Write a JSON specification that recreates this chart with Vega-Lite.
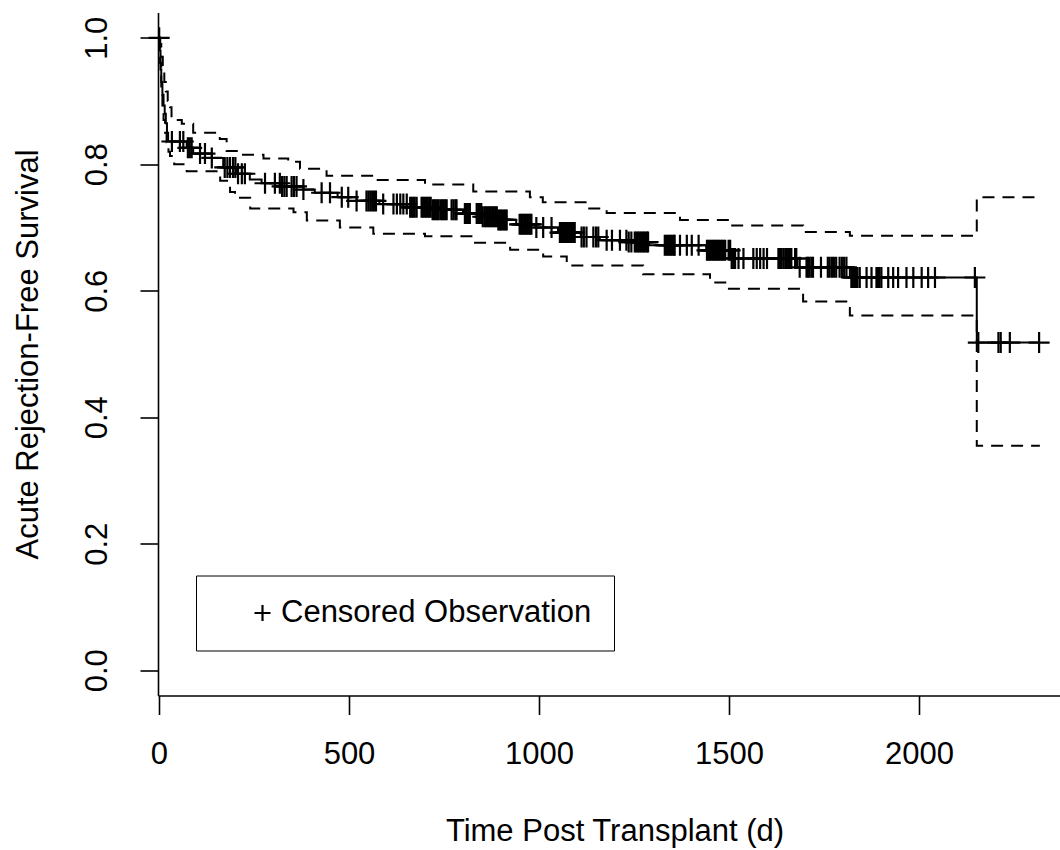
{
  "$schema": "https://vega.github.io/schema/vega-lite/v6.json",
  "width": 902,
  "height": 683,
  "autosize": {"type": "none"},
  "padding": {"left": 158, "top": 12.5, "right": 0, "bottom": 154.5},
  "background": "white",
  "config": {
    "font": "Liberation Sans",
    "view": {"stroke": null},
    "axis": {
      "grid": false,
      "domainColor": "black",
      "domainWidth": 1.6,
      "tickColor": "black",
      "tickWidth": 1.6,
      "labelColor": "black",
      "titleColor": "black",
      "labelFont": "Liberation Sans",
      "titleFont": "Liberation Sans",
      "labelFontSize": 31,
      "titleFontSize": 31,
      "titleFontWeight": "normal",
      "labelFlush": false,
      "labelOverlap": false
    }
  },
  "datasets": {
    "est": [
      {"t":0,"s":1},{"t":2,"s":0.98},{"t":4,"s":0.95},{"t":6,"s":0.93},{"t":9,"s":0.91},{"t":12,"s":0.893},{"t":15,"s":0.88},{"t":18,"s":0.865},{"t":21,"s":0.85},{"t":24,"s":0.836},{"t":73,"s":0.826},{"t":90,"s":0.817},{"t":139,"s":0.81},{"t":169,"s":0.795},{"t":204,"s":0.785},{"t":239,"s":0.776},{"t":270,"s":0.77},{"t":320,"s":0.765},{"t":380,"s":0.76},{"t":410,"s":0.755},{"t":470,"s":0.748},{"t":520,"s":0.742},{"t":580,"s":0.737},{"t":660,"s":0.732},{"t":720,"s":0.728},{"t":800,"s":0.722},{"t":850,"s":0.717},{"t":890,"s":0.712},{"t":940,"s":0.705},{"t":990,"s":0.7},{"t":1050,"s":0.692},{"t":1110,"s":0.685},{"t":1160,"s":0.68},{"t":1240,"s":0.677},{"t":1290,"s":0.672},{"t":1440,"s":0.664},{"t":1505,"s":0.651},{"t":1680,"s":0.637},{"t":1818,"s":0.621},{"t":2152,"s":0.518},{"t":2316,"s":0.518}
    ],
    "upper": [
      {"t":0,"s":1},{"t":3,"s":0.99},{"t":6,"s":0.97},{"t":10,"s":0.95},{"t":14,"s":0.93},{"t":18,"s":0.915},{"t":23,"s":0.9},{"t":29,"s":0.89},{"t":33,"s":0.87},{"t":60,"s":0.864},{"t":90,"s":0.85},{"t":160,"s":0.84},{"t":178,"s":0.821},{"t":213,"s":0.815},{"t":275,"s":0.809},{"t":340,"s":0.804},{"t":371,"s":0.793},{"t":441,"s":0.782},{"t":564,"s":0.775},{"t":700,"s":0.768},{"t":827,"s":0.757},{"t":976,"s":0.748},{"t":1010,"s":0.74},{"t":1126,"s":0.73},{"t":1178,"s":0.723},{"t":1371,"s":0.712},{"t":1503,"s":0.703},{"t":1695,"s":0.693},{"t":1818,"s":0.687},{"t":2152,"s":0.748},{"t":2310,"s":0.748}
    ],
    "lower": [
      {"t":0,"s":1},{"t":3,"s":0.96},{"t":6,"s":0.92},{"t":9,"s":0.89},{"t":12,"s":0.87},{"t":16,"s":0.85},{"t":20,"s":0.835},{"t":25,"s":0.82},{"t":29,"s":0.813},{"t":40,"s":0.8},{"t":73,"s":0.789},{"t":161,"s":0.774},{"t":187,"s":0.756},{"t":200,"s":0.747},{"t":240,"s":0.73},{"t":354,"s":0.724},{"t":389,"s":0.711},{"t":476,"s":0.7},{"t":564,"s":0.69},{"t":700,"s":0.686},{"t":827,"s":0.676},{"t":924,"s":0.665},{"t":1011,"s":0.654},{"t":1073,"s":0.64},{"t":1274,"s":0.626},{"t":1450,"s":0.613},{"t":1495,"s":0.603},{"t":1695,"s":0.583},{"t":1818,"s":0.561},{"t":2152,"s":0.355},{"t":2318,"s":0.355}
    ],
    "censor": [
      {"t":0.5,"s":1,"kind":"Censored Observation"},
      {"t":34,"s":0.836,"kind":"Censored Observation"},{"t":55,"s":0.836,"kind":"Censored Observation"},{"t":64,"s":0.836,"kind":"Censored Observation"},
      {"t":76,"s":0.826,"kind":"Censored Observation"},{"t":81,"s":0.826,"kind":"Censored Observation"},{"t":86,"s":0.826,"kind":"Censored Observation"},
      {"t":108,"s":0.817,"kind":"Censored Observation"},{"t":121,"s":0.817,"kind":"Censored Observation"},{"t":139,"s":0.81,"kind":"Censored Observation"},
      {"t":173,"s":0.795,"kind":"Censored Observation"},{"t":180,"s":0.795,"kind":"Censored Observation"},{"t":187,"s":0.795,"kind":"Censored Observation"},{"t":195,"s":0.795,"kind":"Censored Observation"},{"t":201,"s":0.795,"kind":"Censored Observation"},
      {"t":208,"s":0.785,"kind":"Censored Observation"},{"t":218,"s":0.785,"kind":"Censored Observation"},{"t":226,"s":0.785,"kind":"Censored Observation"},
      {"t":279,"s":0.77,"kind":"Censored Observation"},{"t":305,"s":0.77,"kind":"Censored Observation"},{"t":318,"s":0.77,"kind":"Censored Observation"},
      {"t":324,"s":0.765,"kind":"Censored Observation"},{"t":330,"s":0.765,"kind":"Censored Observation"},{"t":336,"s":0.765,"kind":"Censored Observation"},{"t":349,"s":0.765,"kind":"Censored Observation"},{"t":355,"s":0.765,"kind":"Censored Observation"},{"t":362,"s":0.765,"kind":"Censored Observation"},
      {"t":380,"s":0.76,"kind":"Censored Observation"},{"t":428,"s":0.755,"kind":"Censored Observation"},{"t":450,"s":0.755,"kind":"Censored Observation"},
      {"t":481,"s":0.748,"kind":"Censored Observation"},{"t":498,"s":0.748,"kind":"Censored Observation"},
      {"t":520,"s":0.742,"kind":"Censored Observation"},{"t":546,"s":0.742,"kind":"Censored Observation"},{"t":551,"s":0.742,"kind":"Censored Observation"},{"t":556,"s":0.742,"kind":"Censored Observation"},{"t":561,"s":0.742,"kind":"Censored Observation"},{"t":566,"s":0.742,"kind":"Censored Observation"},{"t":571,"s":0.742,"kind":"Censored Observation"},
      {"t":590,"s":0.737,"kind":"Censored Observation"},{"t":617,"s":0.737,"kind":"Censored Observation"},{"t":626,"s":0.737,"kind":"Censored Observation"},{"t":635,"s":0.737,"kind":"Censored Observation"},{"t":643,"s":0.737,"kind":"Censored Observation"},{"t":652,"s":0.737,"kind":"Censored Observation"},
      {"t":661,"s":0.732,"kind":"Censored Observation"},{"t":665,"s":0.732,"kind":"Censored Observation"},{"t":669,"s":0.732,"kind":"Censored Observation"},{"t":673,"s":0.732,"kind":"Censored Observation"},{"t":678,"s":0.732,"kind":"Censored Observation"},
      {"t":691,"s":0.732,"kind":"Censored Observation"},{"t":695,"s":0.732,"kind":"Censored Observation"},{"t":699,"s":0.732,"kind":"Censored Observation"},{"t":703,"s":0.732,"kind":"Censored Observation"},{"t":707,"s":0.732,"kind":"Censored Observation"},{"t":711,"s":0.732,"kind":"Censored Observation"},{"t":715,"s":0.732,"kind":"Censored Observation"},
      {"t":720,"s":0.728,"kind":"Censored Observation"},{"t":724,"s":0.728,"kind":"Censored Observation"},{"t":728,"s":0.728,"kind":"Censored Observation"},{"t":732,"s":0.728,"kind":"Censored Observation"},{"t":736,"s":0.728,"kind":"Censored Observation"},{"t":741,"s":0.728,"kind":"Censored Observation"},{"t":745,"s":0.728,"kind":"Censored Observation"},{"t":749,"s":0.728,"kind":"Censored Observation"},{"t":753,"s":0.728,"kind":"Censored Observation"},{"t":757,"s":0.728,"kind":"Censored Observation"},
      {"t":770,"s":0.728,"kind":"Censored Observation"},{"t":775,"s":0.728,"kind":"Censored Observation"},{"t":780,"s":0.728,"kind":"Censored Observation"},{"t":783,"s":0.728,"kind":"Censored Observation"},
      {"t":805,"s":0.722,"kind":"Censored Observation"},{"t":810,"s":0.722,"kind":"Censored Observation"},{"t":814,"s":0.722,"kind":"Censored Observation"},{"t":818,"s":0.722,"kind":"Censored Observation"},
      {"t":836,"s":0.722,"kind":"Censored Observation"},{"t":840,"s":0.722,"kind":"Censored Observation"},{"t":844,"s":0.722,"kind":"Censored Observation"},{"t":848,"s":0.722,"kind":"Censored Observation"},
      {"t":852,"s":0.717,"kind":"Censored Observation"},{"t":857,"s":0.717,"kind":"Censored Observation"},{"t":861,"s":0.717,"kind":"Censored Observation"},{"t":865,"s":0.717,"kind":"Censored Observation"},{"t":869,"s":0.717,"kind":"Censored Observation"},{"t":873,"s":0.717,"kind":"Censored Observation"},{"t":877,"s":0.717,"kind":"Censored Observation"},{"t":881,"s":0.717,"kind":"Censored Observation"},{"t":885,"s":0.717,"kind":"Censored Observation"},{"t":889,"s":0.717,"kind":"Censored Observation"},
      {"t":893,"s":0.712,"kind":"Censored Observation"},{"t":897,"s":0.712,"kind":"Censored Observation"},{"t":900,"s":0.712,"kind":"Censored Observation"},{"t":904,"s":0.712,"kind":"Censored Observation"},{"t":908,"s":0.712,"kind":"Censored Observation"},{"t":912,"s":0.712,"kind":"Censored Observation"},{"t":915,"s":0.712,"kind":"Censored Observation"},
      {"t":949,"s":0.705,"kind":"Censored Observation"},{"t":953,"s":0.705,"kind":"Censored Observation"},{"t":957,"s":0.705,"kind":"Censored Observation"},{"t":961,"s":0.705,"kind":"Censored Observation"},{"t":965,"s":0.705,"kind":"Censored Observation"},{"t":969,"s":0.705,"kind":"Censored Observation"},{"t":973,"s":0.705,"kind":"Censored Observation"},{"t":977,"s":0.705,"kind":"Censored Observation"},{"t":980,"s":0.705,"kind":"Censored Observation"},
      {"t":993,"s":0.7,"kind":"Censored Observation"},{"t":1011,"s":0.7,"kind":"Censored Observation"},{"t":1033,"s":0.7,"kind":"Censored Observation"},
      {"t":1055,"s":0.692,"kind":"Censored Observation"},{"t":1059,"s":0.692,"kind":"Censored Observation"},{"t":1063,"s":0.692,"kind":"Censored Observation"},{"t":1067,"s":0.692,"kind":"Censored Observation"},{"t":1071,"s":0.692,"kind":"Censored Observation"},{"t":1075,"s":0.692,"kind":"Censored Observation"},{"t":1079,"s":0.692,"kind":"Censored Observation"},{"t":1083,"s":0.692,"kind":"Censored Observation"},{"t":1087,"s":0.692,"kind":"Censored Observation"},{"t":1091,"s":0.692,"kind":"Censored Observation"},{"t":1094,"s":0.692,"kind":"Censored Observation"},
      {"t":1112,"s":0.685,"kind":"Censored Observation"},{"t":1118,"s":0.685,"kind":"Censored Observation"},{"t":1125,"s":0.685,"kind":"Censored Observation"},{"t":1143,"s":0.685,"kind":"Censored Observation"},{"t":1150,"s":0.685,"kind":"Censored Observation"},{"t":1156,"s":0.685,"kind":"Censored Observation"},
      {"t":1178,"s":0.68,"kind":"Censored Observation"},{"t":1192,"s":0.68,"kind":"Censored Observation"},{"t":1213,"s":0.68,"kind":"Censored Observation"},{"t":1230,"s":0.68,"kind":"Censored Observation"},
      {"t":1236,"s":0.677,"kind":"Censored Observation"},{"t":1243,"s":0.677,"kind":"Censored Observation"},{"t":1252,"s":0.677,"kind":"Censored Observation"},{"t":1256,"s":0.677,"kind":"Censored Observation"},{"t":1260,"s":0.677,"kind":"Censored Observation"},{"t":1264,"s":0.677,"kind":"Censored Observation"},{"t":1268,"s":0.677,"kind":"Censored Observation"},{"t":1272,"s":0.677,"kind":"Censored Observation"},{"t":1276,"s":0.677,"kind":"Censored Observation"},{"t":1280,"s":0.677,"kind":"Censored Observation"},{"t":1284,"s":0.677,"kind":"Censored Observation"},{"t":1287,"s":0.677,"kind":"Censored Observation"},
      {"t":1331,"s":0.672,"kind":"Censored Observation"},{"t":1335,"s":0.672,"kind":"Censored Observation"},{"t":1339,"s":0.672,"kind":"Censored Observation"},{"t":1343,"s":0.672,"kind":"Censored Observation"},{"t":1347,"s":0.672,"kind":"Censored Observation"},{"t":1351,"s":0.672,"kind":"Censored Observation"},{"t":1355,"s":0.672,"kind":"Censored Observation"},{"t":1357,"s":0.672,"kind":"Censored Observation"},{"t":1371,"s":0.672,"kind":"Censored Observation"},{"t":1389,"s":0.672,"kind":"Censored Observation"},{"t":1402,"s":0.672,"kind":"Censored Observation"},{"t":1420,"s":0.672,"kind":"Censored Observation"},
      {"t":1442,"s":0.664,"kind":"Censored Observation"},{"t":1446,"s":0.664,"kind":"Censored Observation"},{"t":1450,"s":0.664,"kind":"Censored Observation"},{"t":1454,"s":0.664,"kind":"Censored Observation"},{"t":1458,"s":0.664,"kind":"Censored Observation"},{"t":1462,"s":0.664,"kind":"Censored Observation"},{"t":1466,"s":0.664,"kind":"Censored Observation"},{"t":1470,"s":0.664,"kind":"Censored Observation"},{"t":1474,"s":0.664,"kind":"Censored Observation"},{"t":1478,"s":0.664,"kind":"Censored Observation"},{"t":1482,"s":0.664,"kind":"Censored Observation"},{"t":1486,"s":0.664,"kind":"Censored Observation"},{"t":1490,"s":0.664,"kind":"Censored Observation"},{"t":1499,"s":0.664,"kind":"Censored Observation"},{"t":1503,"s":0.664,"kind":"Censored Observation"},
      {"t":1507,"s":0.651,"kind":"Censored Observation"},{"t":1511,"s":0.651,"kind":"Censored Observation"},{"t":1516,"s":0.651,"kind":"Censored Observation"},{"t":1525,"s":0.651,"kind":"Censored Observation"},{"t":1538,"s":0.651,"kind":"Censored Observation"},{"t":1564,"s":0.651,"kind":"Censored Observation"},{"t":1573,"s":0.651,"kind":"Censored Observation"},{"t":1582,"s":0.651,"kind":"Censored Observation"},{"t":1591,"s":0.651,"kind":"Censored Observation"},{"t":1600,"s":0.651,"kind":"Censored Observation"},
      {"t":1630,"s":0.651,"kind":"Censored Observation"},{"t":1634,"s":0.651,"kind":"Censored Observation"},{"t":1638,"s":0.651,"kind":"Censored Observation"},{"t":1643,"s":0.651,"kind":"Censored Observation"},{"t":1648,"s":0.651,"kind":"Censored Observation"},{"t":1652,"s":0.651,"kind":"Censored Observation"},{"t":1656,"s":0.651,"kind":"Censored Observation"},{"t":1660,"s":0.651,"kind":"Censored Observation"},{"t":1664,"s":0.651,"kind":"Censored Observation"},{"t":1674,"s":0.651,"kind":"Censored Observation"},{"t":1677,"s":0.651,"kind":"Censored Observation"},
      {"t":1686,"s":0.637,"kind":"Censored Observation"},{"t":1704,"s":0.637,"kind":"Censored Observation"},{"t":1708,"s":0.637,"kind":"Censored Observation"},{"t":1712,"s":0.637,"kind":"Censored Observation"},{"t":1717,"s":0.637,"kind":"Censored Observation"},{"t":1721,"s":0.637,"kind":"Censored Observation"},{"t":1742,"s":0.637,"kind":"Censored Observation"},{"t":1760,"s":0.637,"kind":"Censored Observation"},{"t":1765,"s":0.637,"kind":"Censored Observation"},{"t":1771,"s":0.637,"kind":"Censored Observation"},{"t":1776,"s":0.637,"kind":"Censored Observation"},{"t":1782,"s":0.637,"kind":"Censored Observation"},{"t":1791,"s":0.637,"kind":"Censored Observation"},{"t":1797,"s":0.637,"kind":"Censored Observation"},{"t":1803,"s":0.637,"kind":"Censored Observation"},{"t":1809,"s":0.637,"kind":"Censored Observation"},
      {"t":1822,"s":0.621,"kind":"Censored Observation"},{"t":1826,"s":0.621,"kind":"Censored Observation"},{"t":1830,"s":0.621,"kind":"Censored Observation"},{"t":1834,"s":0.621,"kind":"Censored Observation"},{"t":1838,"s":0.621,"kind":"Censored Observation"},{"t":1844,"s":0.621,"kind":"Censored Observation"},{"t":1862,"s":0.621,"kind":"Censored Observation"},{"t":1875,"s":0.621,"kind":"Censored Observation"},{"t":1888,"s":0.621,"kind":"Censored Observation"},{"t":1892,"s":0.621,"kind":"Censored Observation"},{"t":1896,"s":0.621,"kind":"Censored Observation"},{"t":1901,"s":0.621,"kind":"Censored Observation"},{"t":1919,"s":0.621,"kind":"Censored Observation"},{"t":1932,"s":0.621,"kind":"Censored Observation"},{"t":1945,"s":0.621,"kind":"Censored Observation"},{"t":1967,"s":0.621,"kind":"Censored Observation"},{"t":1985,"s":0.621,"kind":"Censored Observation"},{"t":2007,"s":0.621,"kind":"Censored Observation"},{"t":2024,"s":0.621,"kind":"Censored Observation"},{"t":2042,"s":0.621,"kind":"Censored Observation"},{"t":2147,"s":0.621,"kind":"Censored Observation"},
      {"t":2156,"s":0.518,"kind":"Censored Observation"},{"t":2209,"s":0.518,"kind":"Censored Observation"},{"t":2215,"s":0.518,"kind":"Censored Observation"},{"t":2239,"s":0.518,"kind":"Censored Observation"},{"t":2316,"s":0.518,"kind":"Censored Observation"}
    ]
  },
  "encoding": {
    "x": {
      "field": "t", "type": "quantitative",
      "scale": {"domain": [-2.6, 2371], "nice": false, "zero": false},
      "axis": {
        "values": [0, 500, 1000, 1500, 2000],
        "format": "d",
        "tickSize": 19,
        "labelPadding": 25,
        "title": "Time Post Transplant (d)",
        "titleBaseline": "alphabetic",
        "titleX": 456.5,
        "titleY": 144.5
      }
    },
    "y": {
      "field": "s", "type": "quantitative",
      "scale": {"domain": [-0.04, 1.04], "nice": false, "zero": false},
      "axis": {
        "values": [0, 0.2, 0.4, 0.6, 0.8, 1],
        "format": ".1f",
        "tickSize": 18,
        "labelAngle": 270,
        "labelAlign": "center",
        "labelBaseline": "bottom",
        "labelPadding": 27,
        "title": "Acute Rejection-Free Survival",
        "titleAngle": 270,
        "titleBaseline": "alphabetic",
        "titleAlign": "center",
        "titleX": -121,
        "titleY": 341.5
      }
    }
  },
  "layer": [
    {
      "data": {"name": "upper"},
      "mark": {"type": "line", "interpolate": "step-after", "color": "black", "strokeWidth": 2, "strokeDash": [12, 8]}
    },
    {
      "data": {"name": "lower"},
      "mark": {"type": "line", "interpolate": "step-after", "color": "black", "strokeWidth": 2, "strokeDash": [12, 8]}
    },
    {
      "data": {"name": "est"},
      "mark": {"type": "line", "interpolate": "step-after", "color": "black", "strokeWidth": 2}
    },
    {
      "data": {"name": "censor"},
      "mark": {"type": "point", "filled": false, "stroke": "black", "strokeWidth": 2.2, "size": 441, "opacity": 1},
      "encoding": {
        "shape": {
          "field": "kind", "type": "nominal",
          "scale": {"range": ["M-1,0H1M0,-1V1"]},
          "legend": {
            "title": null,
            "orient": "none",
            "legendX": 38,
            "legendY": 563,
            "padding": 22,
            "strokeColor": "black",
            "symbolOffset": 29,
            "symbolSize": 256,
            "symbolStrokeColor": "black",
            "symbolStrokeWidth": 2.2,
            "labelOffset": 3,
            "labelFont": "Liberation Sans",
            "labelFontSize": 31,
            "labelColor": "black",
            "labelLimit": 0,
            "encode": {"legend": {"update": {"strokeWidth": {"value": 1.6}}}}
          }
        }
      }
    },
    {
      "data": {"values": [{}]},
      "mark": {"type": "rule", "color": "black", "strokeWidth": 1.6},
      "encoding": {"y": {"datum": 1.04}, "x": null}
    }
  ]
}
